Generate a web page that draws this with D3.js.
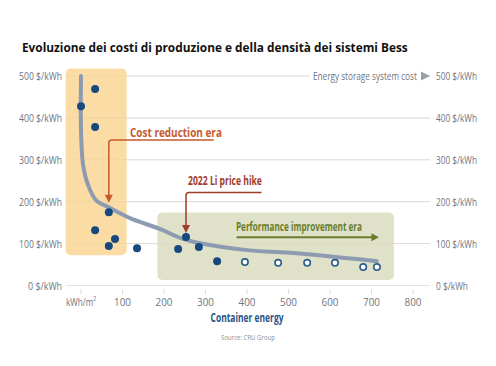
<!DOCTYPE html>
<html><head><meta charset="utf-8">
<script src="https://cdn.jsdelivr.net/npm/d3@7"></script>
<style>
body{margin:0;background:#fff;}
svg{display:block;}
</style></head>
<body><div id="chart"></div>
<script>
const title = "Evoluzione dei costi di produzione e della densità dei sistemi Bess";
const yTicks = [0,100,200,300,400,500];
const xTicks = [0,100,200,300,400,500,600,700,800];
const xTickLabels = ["kWh/m²","100","200","300","400","500","600","700","800"];
// filled points (historical)
const filledX = [0,34,34,67,34,82,67,135,253,234,284,328];
const filledY = [428,469,378,175,132,111,94,89,116,87,92,58];
// open points (projected)
const openX = [395,475,545,612,680,713];
const openY = [56,54,54,54,44,44];
// trend curve
const curveX = [0,0,5,17,36,70,118,190,253,395,504,713];
const curveY = [500,371,288,240,204,185,161,135,109,85,78,58];

const W=496,H=366;
const svg=d3.select("#chart").append("svg").attr("width",W).attr("height",H);
const x=d3.scaleLinear().domain([0,800]).range([81,413]);
const y=d3.scaleLinear().domain([0,500]).range([285.5,76]);
const lab='"Open Sans",sans-serif';

// condensed text via horizontal scaling to a target width
function txt(parent,px,py,s,len,anchor,opts){
  const g=parent.append("g");
  const t=g.append("text").attr("x",0).attr("y",0).text(s)
    .attr("text-anchor",anchor||"start").attr("font-family",lab)
    .attr("font-size",opts.size||11).attr("fill",opts.fill||"#6f7580")
    .attr("font-weight",opts.bold?"bold":"normal");
  const w=t.node().getComputedTextLength();
  const k=len?len/w:1;
  g.attr("transform",`translate(${px},${py}) scale(${k},1)`);
  return g;
}

txt(svg,22,52,title,386,"start",{size:13,bold:true,fill:"#111"});

// gridlines
svg.append("g").selectAll("line").data(yTicks).join("line")
  .attr("x1",66).attr("x2",430).attr("y1",d=>y(d)).attr("y2",d=>y(d))
  .attr("stroke","#e3e3e3").attr("stroke-width",1);

// boxes
svg.append("rect").attr("x",x(-37)).attr("y",y(518)).attr("width",x(110)-x(-37)).attr("height",y(72)-y(518))
  .attr("rx",5).attr("fill","#fcdca5");
svg.append("rect").attr("x",x(184)).attr("y",y(174)).attr("width",x(754)-x(184)).attr("height",y(13)-y(174))
  .attr("rx",5).attr("fill","#e0e1c9");

svg.append("g").selectAll("line").data(yTicks.filter(d=>d>0)).join("line")
  .attr("x1",66).attr("x2",430).attr("y1",d=>y(d)).attr("y2",d=>y(d))
  .attr("stroke","#d8cdb0").attr("stroke-opacity",0.35).attr("stroke-width",1);

// y labels left/right
const yl=svg.append("g");
yTicks.forEach(d=>{
  const s=d+" $/kWh", len=d===0?34:43;
  txt(yl,62,y(d)+4,s,len,"end",{size:11.5});
  txt(yl,436,y(d)+4,s,len-2,"start",{size:11.5});
});

// header
svg.append("rect").attr("x",310).attr("y",69).attr("width",118).attr("height",14).attr("fill","#fff");
txt(svg,313,y(500)+4,"Energy storage system cost",104,"start",{size:11});
svg.append("path").attr("d",`M421,${y(500)-4.5}L430,${y(500)}L421,${y(500)+4.5}Z`).attr("fill","#9aa0a8");

// x ticks
const xg=svg.append("g");
xg.selectAll("line").data(xTicks).join("line")
  .attr("x1",d=>x(d)).attr("x2",d=>x(d)).attr("y1",289).attr("y2",294).attr("stroke","#dcdcdc");
xTicks.forEach((d,i)=>{
  txt(xg,x(d),306,xTickLabels[i],i===0?30:17,"middle",{size:11.5});
});

txt(svg,247,322,"Container energy",73,"middle",{size:12,bold:true,fill:"#2c5289"});
txt(svg,248,340,"Source: CRU Group",54,"middle",{size:7,fill:"#8a8f98"});

// curve
const line=d3.line().x((d,i)=>x(curveX[i])).y((d,i)=>y(curveY[i])).curve(d3.curveCatmullRom.alpha(0.5));
svg.append("path").attr("d",line(curveX)).attr("fill","none").attr("stroke","#8c9bb0").attr("stroke-width",4).attr("stroke-linecap","round");

// annotations
const orange="#c65a2c";
txt(svg,130,y(365)+4,"Cost reduction era",92,"start",{size:12.5,bold:true,fill:orange});
svg.append("path").attr("d",`M${x(67)},${y(188)-9}V${y(347)+3}Q${x(67)},${y(347)} ${x(67)+3},${y(347)}H${x(320)}`)
  .attr("fill","none").attr("stroke",orange).attr("stroke-width",1.5);
svg.append("path").attr("d",`M${x(67)-4},${y(188)-12}L${x(67)},${y(188)-4}L${x(67)+4},${y(188)-12}Z`).attr("fill",orange);

const red="#a03a2a";
txt(svg,188,y(250)+4,"2022 Li price hike",74,"start",{size:12.5,bold:true,fill:red});
svg.append("path").attr("d",`M${x(253)},${y(116)-9}V${y(222)+3}Q${x(253)},${y(222)} ${x(253)+3},${y(222)}H${x(435)}`)
  .attr("fill","none").attr("stroke",red).attr("stroke-width",1.5);
svg.append("path").attr("d",`M${x(253)-4},${y(116)-12}L${x(253)},${y(116)-4}L${x(253)+4},${y(116)-12}Z`).attr("fill",red);

const green="#6b7d2b";
txt(svg,236,y(140)+4,"Performance improvement era",126,"start",{size:12.5,bold:true,fill:green});
svg.append("line").attr("x1",x(375)).attr("x2",x(705)).attr("y1",y(115)).attr("y2",y(115)).attr("stroke",green).attr("stroke-width",2);
svg.append("path").attr("d",`M${x(700)},${y(115)-4}L${x(718)},${y(115)}L${x(700)},${y(115)+4}Z`).attr("fill",green);

// points
svg.append("g").selectAll("circle").data(filledX).join("circle")
  .attr("cx",(d,i)=>x(filledX[i])).attr("cy",(d,i)=>y(filledY[i])).attr("r",4).attr("fill","#17497f");
svg.append("g").selectAll("circle").data(openX).join("circle")
  .attr("cx",(d,i)=>x(openX[i])).attr("cy",(d,i)=>y(openY[i])).attr("r",3.2).attr("fill","#fff").attr("stroke","#2a5d8c").attr("stroke-width",1.6);
</script></body></html>
